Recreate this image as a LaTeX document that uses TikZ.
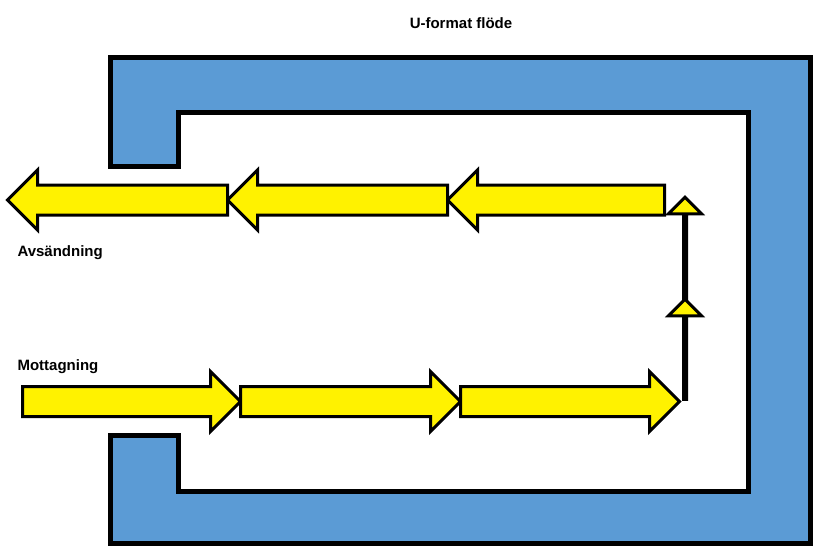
\documentclass[tikz,border=0pt]{standalone}
\usepackage{fontspec}
\setmainfont{Liberation Sans}
\usetikzlibrary{shapes.arrows}
\definecolor{ublue}{RGB}{91,155,213}
\tikzset{
  flow/.style={single arrow, draw=black, line width=3pt, fill=yellow, inner xsep=0pt, inner ysep=13.5pt,
    single arrow head extend=15pt, single arrow tip angle=90, minimum height=#1},
  lbl/.style={font=\bfseries\fontsize{15}{18}\selectfont}
}
\begin{document}
\begin{tikzpicture}[x=1pt,y=-1pt]
  \useasboundingbox (0,0) rectangle (817,547);
  % U-shaped hall
  \draw[fill=ublue, line width=5pt, line join=miter]
    (110,57) -- (810,57) -- (810,543) -- (110,543) -- (110,435) -- (178,435) -- (178,491)
    -- (748,491) -- (748,112) -- (178,112) -- (178,166) -- (110,166) -- cycle;
  \node[lbl] (title) at (461,23) {U-format flöde};
  \node[lbl, anchor=west] (out) at (14,253) {Avsändning};
  \node[lbl, anchor=west] (in) at (14,367) {Mottagning};
  % incoming row
  \node[flow=218pt] (r1) at (124,401.5) {};
  \node[flow=220pt] (r2) at (343,401.5) {};
  \node[flow=219pt] (r3) at (562.5,401.5) {};
  % turn
  \node[flow=100pt, shape border rotate=90] (u1) at (685,350) {};
  \node[flow=102pt, shape border rotate=90] (u2) at (685,249) {};
  % outgoing row
  \node[flow=217pt, shape border rotate=180] (s1) at (563.5,200) {};
  \node[flow=220pt, shape border rotate=180] (s2) at (345,200) {};
  \node[flow=220pt, shape border rotate=180] (s3) at (125,200) {};
\end{tikzpicture}
\end{document}
